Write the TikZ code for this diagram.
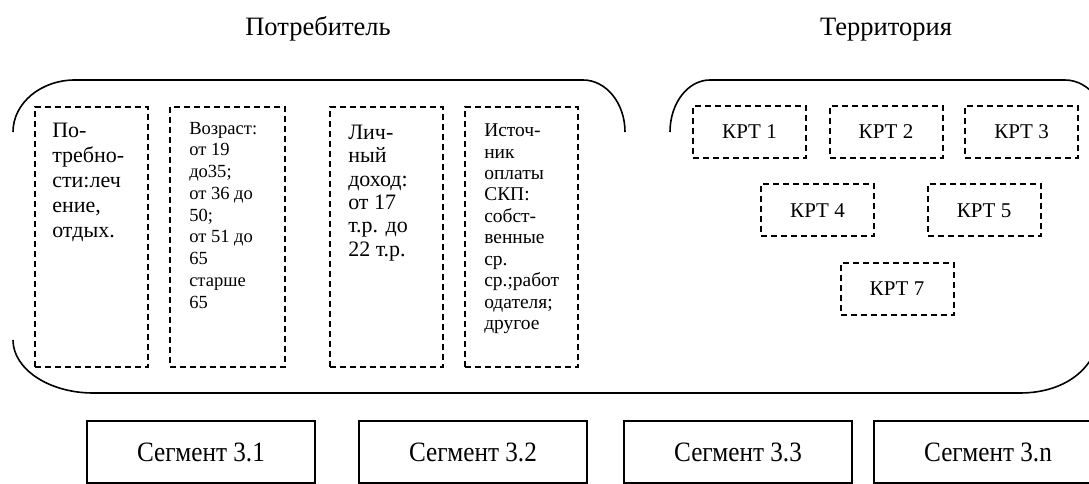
\documentclass[tikz,border=0pt]{standalone}
\usepackage{fontspec}
\setmainfont{Liberation Serif}
\newfontfamily\segfont[FakeStretch=0.9]{Liberation Serif}
\usetikzlibrary{positioning}

\begin{document}
\begin{tikzpicture}[x=0.75pt, y=-0.75pt,
    outline/.style={line width=1.2pt},
    dbox/.style={draw, dash pattern=on 4.5pt off 3pt, line width=1.5pt, inner sep=0pt},
    col/.style={dbox, minimum width=84.75pt, minimum height=195pt},
    krt/.style={dbox, minimum width=84.75pt, minimum height=39pt, font=\fontsize{15.75}{18}\selectfont},
    seg/.style={draw, line width=1pt, minimum width=171pt, minimum height=46.5pt, font=\segfont\fontsize{21}{24}\selectfont},
    txt/.style={inner sep=0pt, align=left},
    title/.style={anchor=base, font=\fontsize{19.9}{22}\selectfont}]
            \useasboundingbox (0,0) rectangle (1089,484);
            \clip (0,0) rectangle (1089,484);

            \node [title] (consumer) at (318,36) {Потребитель};
            \node [title] (territory) at (886,36) {Территория};

            \draw [outline] (13,132) .. controls (13,103) and (41,80) .. (75,80) -- (583,80)
                .. controls (606,80) and (625,103) .. (625,132);
            \draw [outline] (13,340) .. controls (13,369) and (49,393) .. (93,393) -- (1020,393)
                .. controls (1067,393) and (1100,366) .. (1100,326);
            \draw [outline] (670,132) .. controls (670,103) and (688,80) .. (710,80) -- (1065,80)
                .. controls (1090,80) and (1110,107) .. (1110,140);

            \node [col] (need) at (91.5,237) {};
            \node [col, minimum width=86.25pt] (age) at (227.5,237) {};
            \node [col] (income) at (386.5,237) {};
            \node [col] (payer) at (521.5,237.5) {};

            \node [txt, below right=12.4pt and 13.5pt of need.north west, font=\fontsize{16.5}{18.75}\selectfont]
                (needtext) {По-\\требно-\\сти:леч\\ение,\\отдых.};
            \node [txt, below right=11.9pt and 15pt of age.north west, font=\fontsize{13.9}{16.3}\selectfont]
                (agetext) {Возраст:\\от 19\\до35;\\от 36 до\\50;\\от 51 до\\65\\старше\\65};
            \node [txt, below right=13.8pt and 14.25pt of income.north west, font=\fontsize{16.5}{17.6}\selectfont]
                (incometext) {Лич-\\ный\\доход:\\от 17\\т.р. до\\22 т.р.};
            \node [txt, below right=12.8pt and 15pt of payer.north west, font=\fontsize{14.6}{16.1}\selectfont]
                (payertext) {Источ-\\ник\\оплаты\\СКП:\\собст-\\венные\\ср.\\ср.;работ\\одателя;\\другое};

            \foreach \n/\x/\y in {1/749.5/132, 2/886/132, 3/1021.5/132, 4/817.5/210.5, 5/984/210.5, 7/897/289}
            {
                \node [krt] (krt\n) at (\x,\y) {КРТ \n};
            }

            \foreach \n/\x in {1/201, 2/473, 3/738, n/988}
            {
                \node [seg] (seg\n) at (\x,452) {Сегмент 3.\n};
            }
\end{tikzpicture}
\end{document}
